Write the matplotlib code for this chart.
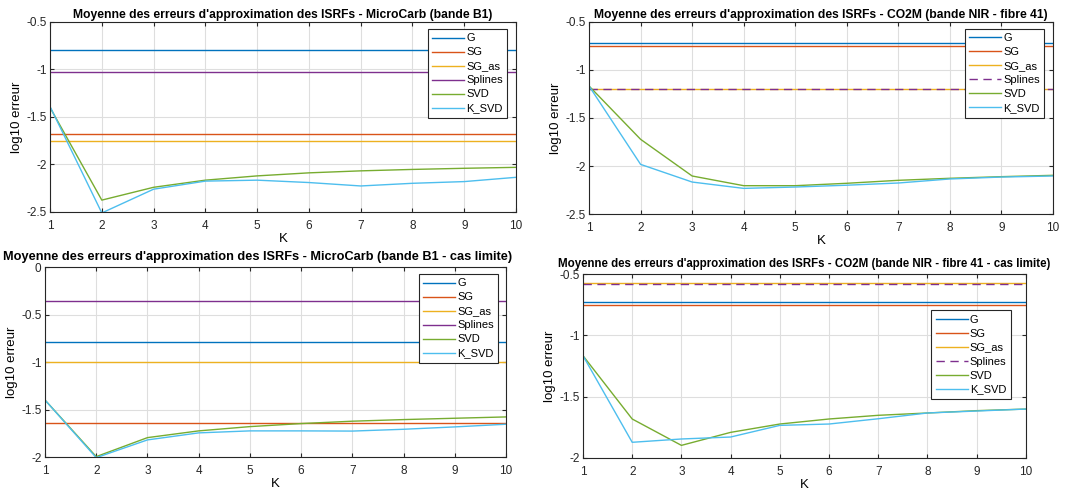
import numpy as np
import matplotlib
matplotlib.use('Agg')
import matplotlib.pyplot as plt
from matplotlib.ticker import FormatStrFormatter

plt.rcParams['font.family'] = ['Liberation Sans', 'DejaVu Sans']
plt.rcParams['axes.unicode_minus'] = False

K = [1, 2, 3, 4, 5, 6, 7, 8, 9, 10]
labels = ['G', 'SG', 'SG_as', 'Splines', 'SVD', 'K_SVD']

# MicroCarb bande B1
mc_const = {'G': -0.79, 'SG': -1.68, 'SG_as': -1.75, 'Splines': -1.025}
mc_svd = [-1.40, -2.375, -2.24, -2.165, -2.12, -2.088, -2.067, -2.052, -2.04, -2.03]
mc_ksvd = [-1.39, -2.51, -2.26, -2.175, -2.165, -2.19, -2.226, -2.198, -2.18, -2.135]

# CO2M bande NIR fibre 41
co_const = {'G': -0.722, 'SG': -0.747, 'SG_as': -1.195, 'Splines': -1.198}
co_svd = [-1.167, -1.722, -2.104, -2.205, -2.205, -2.18, -2.149, -2.128, -2.111, -2.097]
co_ksvd = [-1.167, -1.983, -2.167, -2.233, -2.219, -2.20, -2.177, -2.135, -2.115, -2.104]

# MicroCarb cas limite
mcl_const = {'G': -0.785, 'SG': -1.645, 'SG_as': -0.997, 'Splines': -0.36}
mcl_svd = [-1.40, -1.996, -1.796, -1.725, -1.68, -1.648, -1.623, -1.606, -1.592, -1.578]
mcl_ksvd = [-1.40, -2.007, -1.82, -1.746, -1.725, -1.725, -1.727, -1.708, -1.683, -1.655]

# CO2M cas limite
col_const = {'G': -0.728, 'SG': -0.75, 'SG_as': -0.576, 'Splines': -0.579}
col_svd = [-1.166, -1.682, -1.897, -1.791, -1.723, -1.682, -1.652, -1.633, -1.614, -1.601]
col_ksvd = [-1.166, -1.872, -1.845, -1.829, -1.734, -1.723, -1.68, -1.633, -1.617, -1.601]

colors = {'G': '#0072BD', 'SG': '#D95319', 'SG_as': '#EDB120',
          'Splines': '#7E2F8E', 'SVD': '#77AC30', 'K_SVD': '#4DBEEE'}


def panel(fig, rect, title, const, svd, ksvd, ylim, yticks, leg_anchor,
          dashed_splines=False, title_size=8.6, title_pad=3, title_x=0.5):
    ax = fig.add_axes(rect)
    for name in ['G', 'SG', 'SG_as', 'Splines']:
        y = np.full(len(K), const[name])
        if name == 'Splines' and dashed_splines:
            ax.plot(K, y, color=colors[name], lw=1.0, dashes=(6, 4), label=name)
        else:
            ax.plot(K, y, color=colors[name], lw=1.0, label=name)
    ax.plot(K, svd, color=colors['SVD'], lw=1.0, label='SVD')
    ax.plot(K, ksvd, color=colors['K_SVD'], lw=1.0, label='K_SVD')

    ax.set_xlim(1, 10)
    ax.set_ylim(*ylim)
    ax.set_xticks(K)
    ax.set_yticks(yticks)
    ax.yaxis.set_major_formatter(FormatStrFormatter('%g'))
    ax.grid(True, color='#dedede', lw=0.8)
    ax.set_axisbelow(True)
    ax.tick_params(direction='in', top=True, right=True, length=3,
                   labelsize=8.5, colors='#262626', width=0.8)
    ax.tick_params(axis='x', pad=5.5)
    ax.tick_params(axis='y', pad=2.5)
    for s in ax.spines.values():
        s.set_color('#262626')
        s.set_linewidth(0.8)
    ax.set_title(title, fontsize=title_size, fontweight='bold', pad=title_pad, x=title_x)
    ax.set_xlabel('K', fontsize=9.5, labelpad=1)
    ax.set_ylabel('log10 erreur', fontsize=9.5, labelpad=2)
    leg = ax.legend(loc='upper right', bbox_to_anchor=leg_anchor, fontsize=8,
                    fancybox=False, framealpha=1, edgecolor='#262626',
                    handlelength=2.9, handletextpad=0.15, labelspacing=0.36,
                    borderpad=0.4, borderaxespad=0)
    leg.get_frame().set_linewidth(0.8)
    return ax


fig = plt.figure(figsize=(10.83, 4.93), dpi=100)

panel(fig, [0.0462, 0.570, 0.4303, 0.3854],
      "Moyenne des erreurs d'approximation des ISRFs - MicroCarb (bande B1)",
      mc_const, mc_svd, mc_ksvd, (-2.5, -0.5), [-2.5, -2, -1.5, -1, -0.5], (0.981, 0.963),
      title_size=8.7)

panel(fig, [0.5439, 0.5659, 0.4284, 0.3895],
      "Moyenne des erreurs d'approximation des ISRFs - CO2M (bande NIR - fibre 41)",
      co_const, co_svd, co_ksvd, (-2.5, -0.5), [-2.5, -2, -1.5, -1, -0.5], (0.981, 0.964),
      dashed_splines=True, title_size=8.7)

panel(fig, [0.04155, 0.0730, 0.4257, 0.3854],
      "Moyenne des erreurs d'approximation des ISRFs - MicroCarb (bande B1 - cas limite)",
      mcl_const, mcl_svd, mcl_ksvd, (-2, 0), [-2, -1.5, -1, -0.5, 0], (0.983, 0.963),
      title_size=9.2, title_pad=5, title_x=0.46)

panel(fig, [0.5383, 0.0710, 0.409, 0.3732],
      "Moyenne des erreurs d'approximation des ISRFs - CO2M (bande NIR - fibre 41 - cas limite)",
      col_const, col_svd, col_ksvd, (-2, -0.5), [-2, -1.5, -1, -0.5], (0.966, 0.804),
      dashed_splines=True, title_size=8.3, title_pad=5)

fig.savefig('out.png', dpi=100)
